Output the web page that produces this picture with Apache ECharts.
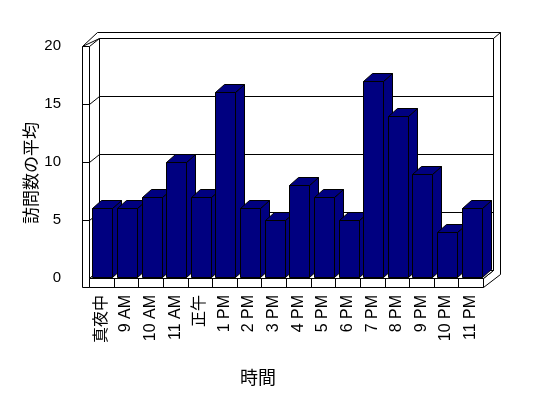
<!DOCTYPE html>
<html>
<head>
<meta charset="utf-8">
<script src="https://cdn.jsdelivr.net/npm/echarts@6/dist/echarts.min.js"></script>
<style>html,body{margin:0;padding:0;background:#fff;}#c{width:548px;height:398px;}</style>
</head>
<body>
<div id="c"></div>
<script>
const categories = ['真夜中','9 AM','10 AM','11 AM','正午','1 PM','2 PM','3 PM','4 PM','5 PM','6 PM','7 PM','8 PM','9 PM','10 PM','11 PM'];
const visits = [6,6,7,10,7,16,6,5,8,7,5,17,14,9,4,6];
const gridValues = [5,10,15];
const xTitle = '時間';
const yTitle = '訪問数の平均';

const NAVY = '#000080';
const WDX = 10, WDY = -8;   // wall depth
const BDX = 9, BDY = -8;    // bar depth
const p = v => Math.round(v) + 0.5;
const lineStyle = {stroke:'#000', lineWidth:1, fill:null};

function renderFrame(params, api) {
  const cs = params.coordSys;
  const x0 = p(cs.x), x1 = p(cs.x + cs.width);
  const yT = p(cs.y), yB = p(cs.y + cs.height);
  const floorB = yB + 9;
  const wallOut = x0 - 7;
  const ch = [];
  const white = {fill:'#fff', stroke:'#000', lineWidth:1};
  ch.push({type:'polygon', shape:{points:[[wallOut, yT],[wallOut+15, yT-14],[x1+17, yT-14],[x1+17, floorB-13],[x1, floorB],[x1, yB],[x1+WDX, yB+WDY],[x1+WDX, yT+WDY],[x0+WDX, yT+WDY]]}, style:white});
  ch.push({type:'line', shape:{x1:x1+WDX, y1:yT+WDY, x2:x1+17, y2:yT-14}, style:lineStyle});
  ch.push({type:'rect', shape:{x:x0+WDX, y:yT+WDY, width:x1-x0, height:yB-yT}, style:white});
  ch.push({type:'polygon', shape:{points:[[x0,yT],[x0+WDX,yT+WDY],[x0+WDX,yB+WDY],[x0,yB]]}, style:white});
  ch.push({type:'rect', shape:{x:wallOut, y:yT, width:x0-wallOut, height:floorB-yT}, style:white});
  gridValues.forEach(v => {
    const yf = p(api.coord([0, v])[1]);
    ch.push({type:'line', shape:{x1:x0+WDX, y1:yf+WDY, x2:x1+WDX, y2:yf+WDY}, style:lineStyle});
    ch.push({type:'line', shape:{x1:x0, y1:yf, x2:x0+WDX, y2:yf+WDY}, style:lineStyle});
    ch.push({type:'line', shape:{x1:wallOut, y1:yf, x2:x0, y2:yf}, style:lineStyle});
  });
  ch.push({type:'polygon', shape:{points:[[x0,yB],[x1,yB],[x1+WDX,yB+WDY],[x0+WDX,yB+WDY]]}, style:white});
  ch.push({type:'rect', shape:{x:x0, y:yB, width:x1-x0, height:floorB-yB}, style:white});
  const n = categories.length;
  for (let i = 1; i < n; i++) {
    const xb = p(cs.x + cs.width * i / n);
    ch.push({type:'line', shape:{x1:xb, y1:yB, x2:xb, y2:floorB}, style:lineStyle});
  }
  return {type:'group', children:ch};
}

function renderBar(params, api) {
  const i = api.value(0), v = api.value(1);
  const top = api.coord([i, v]);
  const bot = api.coord([i, 0]);
  const w = 20;
  const xL = p(top[0] - w/2 + 1), xR = xL + w;
  const yT = p(top[1]), yB = p(bot[1]) - 1;
  const st = {fill:NAVY, stroke:'#000', lineWidth:1};
  return {type:'group', children:[
    {type:'polygon', shape:{points:[[xR,yT],[xR+BDX,yT+BDY],[xR+BDX,yB+BDY],[xR,yB]]}, style:st},
    {type:'polygon', shape:{points:[[xL,yT],[xR,yT],[xR+BDX,yT+BDY],[xL+BDX,yT+BDY]]}, style:st},
    {type:'rect', shape:{x:xL, y:yT, width:w, height:yB-yT}, style:st}
  ]};
}

const chart = echarts.init(document.getElementById('c'), null, {renderer:'canvas'});
chart.setOption({
  animation:false,
  backgroundColor:'#fff',
  grid:{left:89, top:46, width:394, height:232},
  xAxis:{type:'category', data:categories, boundaryGap:true,
    axisLine:{show:false}, axisTick:{show:false}, splitLine:{show:false},
    axisLabel:{rotate:90, margin:17, interval:0, fontSize:16, color:'#000',
      fontFamily:"'Liberation Sans', 'Noto Sans CJK JP', sans-serif"}},
  yAxis:{type:'value', min:0, max:20, interval:5,
    axisLine:{show:false}, axisTick:{show:false}, splitLine:{show:false},
    axisLabel:{margin:28, fontSize:15, color:'#000', fontFamily:"'Liberation Sans Narrow', 'Liberation Sans', sans-serif"}},
  graphic:[
    {type:'text', x:258, y:377, style:{text:xTitle, align:'center', verticalAlign:'middle', textAlign:'center', textVerticalAlign:'middle', fontSize:18, fill:'#000', fontFamily:"'Noto Sans CJK JP'"}},
    {type:'text', x:31, y:173, rotation:Math.PI/2, style:{text:yTitle, align:'center', verticalAlign:'middle', textAlign:'center', textVerticalAlign:'middle', fontSize:17, fill:'#000', fontFamily:"'Noto Sans CJK JP'"}}
  ],
  series:[
    {type:'custom', renderItem:renderFrame, data:[[0,0]], silent:true, z:1, clip:false},
    {type:'custom', renderItem:renderBar, data:visits.map((v,i)=>[i,v]), z:2, clip:false}
  ]
});
</script>
</body>
</html>
